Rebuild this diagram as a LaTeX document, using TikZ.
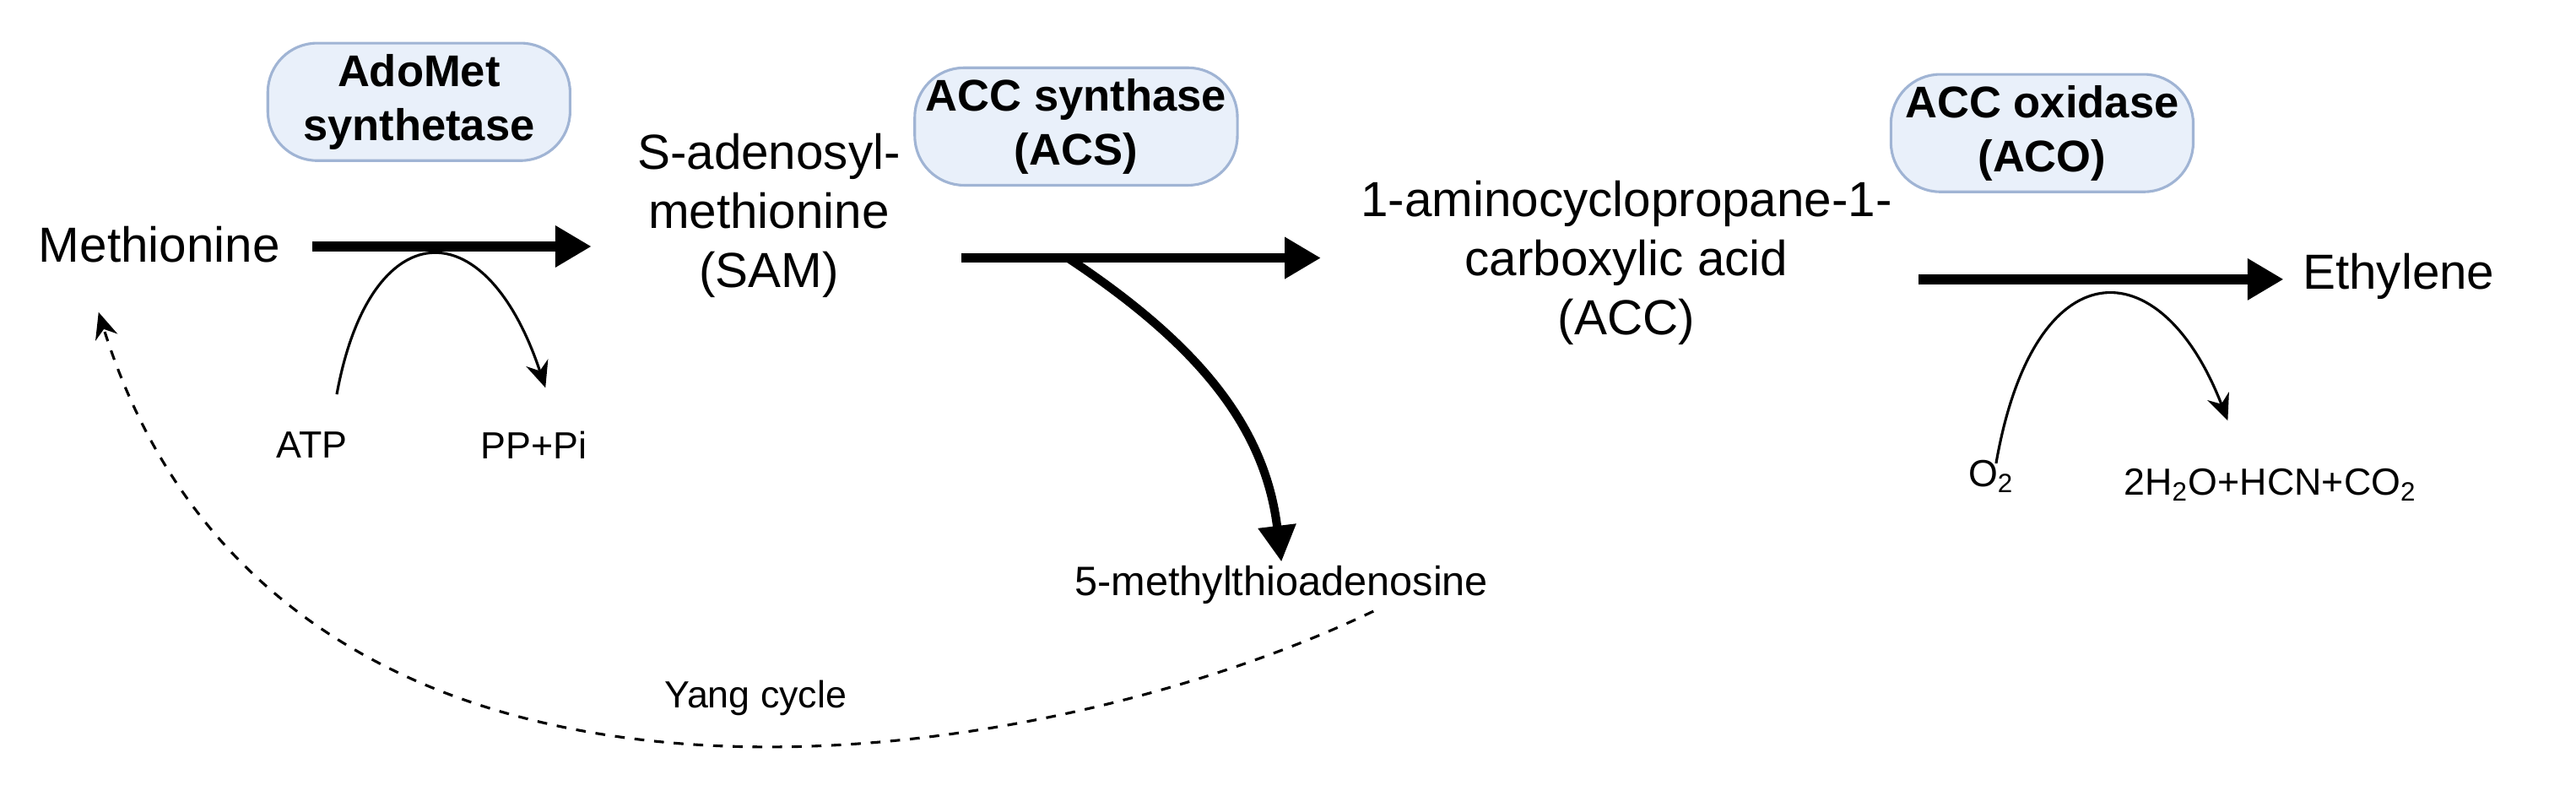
\documentclass[tikz,border=0pt]{standalone}
\usepackage{fontspec}
\setmainfont{Liberation Sans}
\usetikzlibrary{arrows.meta,positioning}
\definecolor{enzfill}{RGB}{233,240,250}
\definecolor{enzline}{RGB}{160,180,212}
\begin{document}
\begin{tikzpicture}[x=0.5pt, y=-0.5pt, font=\fontsize{15}{18}\selectfont]
      \tikzstyle{enzyme} = [rectangle, draw=enzline, fill=enzfill, rounded corners=15, line width=0.8pt, minimum width=92pt, minimum height=34pt, align=center, font=\fontsize{13.5}{16.5}\selectfont\bfseries]
      \tikzstyle{met}    = [align=center, inner sep=1]
      \tikzstyle{small}  = [font=\fontsize{11.5}{13}\selectfont, inner sep=1]
      \tikzstyle{main}   = [line width=3pt, -{Triangle[length=11pt, width=12pt]}]
      \tikzstyle{side}   = [line width=0.8pt, -{Stealth[length=8pt, width=7pt]}]

      \useasboundingbox (0,0) rectangle (1568,491);

      \node[met]    (met)  at (97,149)   {Methionine};
      \node[met]    (sam)  at (468,131)  {S-adenosyl-\\methionine\\(SAM)};
      \node[met]    (acc)  at (990,160)  {1-aminocyclopropane-1-\\carboxylic acid\\(ACC)};
      \node[met]    (eth)  at (1460,168) {Ethylene};
      \node[met, font=\fontsize{12.5}{14}\selectfont] (mta) at (780,356) {5-methylthioadenosine};

      \node[enzyme] (ams)  at (255,62)   {AdoMet\\synthetase};
      \node[enzyme] (acs)  at (655,77)   {ACC synthase\\(ACS)};
      \node[enzyme] (aco)  at (1243,81)  {ACC oxidase\\(ACO)};

      \node[small]  (atp)  at (190,271)  {ATP};
      \node[small]  (ppi)  at (325,271)  {PP+Pi};
      \node[small]  (oxy)  at (1212,290) {O\textsubscript{2}};
      \node[small]  (prod) at (1382,295) {2H\textsubscript{2}O+HCN+CO\textsubscript{2}};
      \node[small]  (yang) at (460,425)  {Yang cycle};

      \coordinate (a1) at (190,150);  \coordinate (b1) at (360,150);
      \coordinate (a2) at (585,157);  \coordinate (b2) at (804,157);
      \coordinate (a3) at (1168,170); \coordinate (b3) at (1390,170);

      \draw[main] (a1) -- (b1);
      \draw[main] (a2) -- (b2);
      \draw[main] (a3) -- (b3);
      \draw[line width=2.6pt, -{Triangle[length=11pt, width=11pt]}] (650,157) .. controls (730,210) and (770,260) .. (mta.north);

      \draw[side] (205,240) .. controls (225,130) and (295,125) .. (332,236);
      \draw[side] (1215,282) .. controls (1238,150) and (1315,150) .. (1356,256);

      \draw[dashed, line width=0.8pt, -{Stealth[length=8pt, width=7pt]}] (836,372) .. controls (620,475) and (170,540) .. (60,190);
\end{tikzpicture}
\end{document}
